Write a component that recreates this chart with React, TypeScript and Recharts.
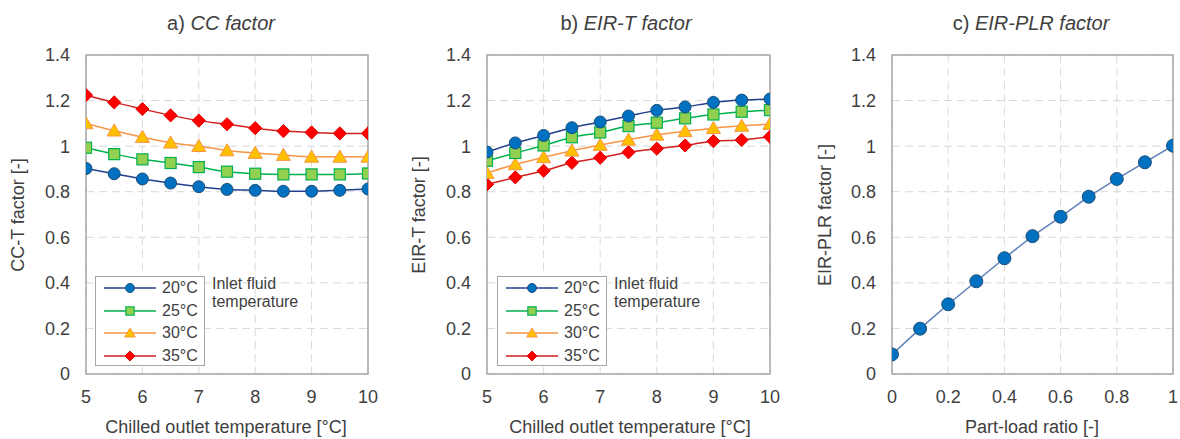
import React from 'react';
import {
  LineChart,
  Line,
  XAxis,
  YAxis,
  CartesianGrid,
  ReferenceArea,
  Legend,
} from 'recharts';

// ---------- data ----------
const chilledTemps = [5, 5.5, 6, 6.5, 7, 7.5, 8, 8.5, 9, 9.5, 10];
const cc20 = [0.902, 0.879, 0.856, 0.838, 0.822, 0.81, 0.806, 0.802, 0.802, 0.806, 0.812];
const cc25 = [0.993, 0.965, 0.942, 0.926, 0.908, 0.888, 0.879, 0.876, 0.876, 0.876, 0.88];
const cc30 = [1.1, 1.068, 1.04, 1.015, 1.0, 0.981, 0.97, 0.961, 0.953, 0.953, 0.953];
const cc35 = [1.224, 1.192, 1.163, 1.135, 1.112, 1.096, 1.079, 1.066, 1.06, 1.056, 1.056];

const eir20 = [0.974, 1.014, 1.047, 1.081, 1.106, 1.132, 1.157, 1.172, 1.192, 1.202, 1.207];
const eir25 = [0.936, 0.97, 1.003, 1.039, 1.06, 1.088, 1.103, 1.122, 1.139, 1.151, 1.158];
const eir30 = [0.882, 0.92, 0.951, 0.98, 1.005, 1.028, 1.05, 1.065, 1.079, 1.089, 1.097];
const eir35 = [0.832, 0.863, 0.892, 0.927, 0.949, 0.973, 0.989, 1.003, 1.022, 1.027, 1.041];

const partLoad = [0, 0.1, 0.2, 0.3, 0.4, 0.5, 0.6, 0.7, 0.8, 0.9, 1];
const eirPlr = [0.086, 0.199, 0.306, 0.407, 0.508, 0.605, 0.69, 0.778, 0.856, 0.929, 1.002];

const seriesNames = ['20°C', '25°C', '30°C', '35°C'];
const tempTicks = [5, 6, 7, 8, 9, 10];
const plrTicks = [0, 0.2, 0.4, 0.6, 0.8, 1];
const factorTicks = [0, 0.2, 0.4, 0.6, 0.8, 1, 1.2, 1.4];

// ---------- styles ----------
const FONT = 'Arial, "Liberation Sans", sans-serif';
const TEXT = '#404040';
const GRID = '#d9d9d9';
const BORDER = '#a6a6a6';

type Shape = 'circle' | 'square' | 'triangle' | 'diamond';
const seriesStyles: { line: string; fill: string; stroke: string; shape: Shape }[] = [
  { line: '#203f8c', fill: '#0070c0', stroke: '#1f4e79', shape: 'circle' },
  { line: '#00b050', fill: '#92d050', stroke: '#00b050', shape: 'square' },
  { line: '#f79646', fill: '#ffc000', stroke: '#f79646', shape: 'triangle' },
  { line: '#d02020', fill: '#ff0000', stroke: '#e00000', shape: 'diamond' },
];

function drawMarker(shape: Shape, cx: number, cy: number, s: number, fill: string, stroke: string, key?: any) {
  if (shape === 'circle') {
    return <circle key={key} cx={cx} cy={cy} r={s * 0.5} fill={fill} stroke={stroke} strokeWidth={1} />;
  }
  if (shape === 'square') {
    const h = s * 0.46;
    return <rect key={key} x={cx - h} y={cy - h} width={2 * h} height={2 * h} fill={fill} stroke={stroke} strokeWidth={1.2} />;
  }
  if (shape === 'triangle') {
    const h = s * 0.56;
    return (
      <polygon
        key={key}
        points={`${cx},${cy - h} ${cx + h * 1.05},${cy + h * 0.8} ${cx - h * 1.05},${cy + h * 0.8}`}
        fill={fill}
        stroke={stroke}
        strokeWidth={1}
      />
    );
  }
  const h = s * 0.55;
  return (
    <polygon
      key={key}
      points={`${cx},${cy - h} ${cx + h},${cy} ${cx},${cy + h} ${cx - h},${cy}`}
      fill={fill}
      stroke={stroke}
      strokeWidth={1}
    />
  );
}

const makeDot = (idx: number, size: number) => (props: any) => {
  const st = seriesStyles[idx];
  if (props.cx == null || props.cy == null) return <g key={`e${props.index}`} />;
  return drawMarker(st.shape, props.cx, props.cy, size, st.fill, st.stroke, `d${idx}-${props.index}`);
};

const ccData = chilledTemps.map((t, i) => ({ t, s0: cc20[i], s1: cc25[i], s2: cc30[i], s3: cc35[i] }));
const eirData = chilledTemps.map((t, i) => ({ t, s0: eir20[i], s1: eir25[i], s2: eir30[i], s3: eir35[i] }));
const plrData = partLoad.map((p, i) => ({ p, v: eirPlr[i] }));

const LegendBox = () => (
  <div style={{ display: 'flex', alignItems: 'flex-start', fontFamily: FONT, color: TEXT }}>
    <div
      style={{
        border: `1.5px solid ${BORDER}`,
        background: '#fff',
        width: 108,
        height: 88,
        paddingTop: 0,
        boxSizing: 'content-box',
      }}
    >
      {seriesNames.map((n, i) => (
        <div key={n} style={{ height: 22.5, display: 'flex', alignItems: 'center', fontSize: 16 }}>
          <svg width={66} height={20} style={{ flex: 'none' }}>
            <line x1={8} x2={60} y1={10} y2={10} stroke={seriesStyles[i].line} strokeWidth={1.5} />
            {drawMarker(seriesStyles[i].shape, 34, 10, 9, seriesStyles[i].fill, seriesStyles[i].stroke)}
          </svg>
          <span>{n}</span>
        </div>
      ))}
    </div>
    <div style={{ marginLeft: 7, fontSize: 16, lineHeight: '17.7px', marginTop: -1 }}>
      Inlet fluid
      <br />
      temperature
    </div>
  </div>
);

const tickStyle = { fontSize: 18, fill: TEXT, fontFamily: FONT };

function Panel(props: {
  left: number;
  width: number;
  plotLeft: number;
  plotRight: number;
  data: any[];
  xKey: string;
  xDomain: [number, number];
  xTicks: number[];
  multi: boolean;
  legendLeft?: number;
}) {
  const { left, width, plotLeft, plotRight, data, xKey, xDomain, xTicks, multi } = props;
  const yW = 50;
  return (
    <div style={{ position: 'absolute', left, top: 0, width, height: 439 }}>
      <LineChart
        width={width}
        height={439}
        data={data}
        margin={{ top: 55, right: width - plotRight, bottom: 25, left: plotLeft - yW }}
      >
        <CartesianGrid stroke={GRID} strokeDasharray="8 5" strokeWidth={1} />
        <XAxis
          dataKey={xKey}
          type="number"
          domain={xDomain}
          ticks={xTicks}
          allowDataOverflow
          tickLine={false}
          axisLine={false}
          tickSize={0}
          tickMargin={16}
          height={40}
          tick={tickStyle}
          interval={0}
        />
        <YAxis
          type="number"
          domain={[0, 1.4]}
          ticks={factorTicks}
          tickLine={false}
          axisLine={false}
          tickSize={0}
          tickMargin={16}
          width={yW}
          tick={tickStyle}
          interval={0}
        />
        <ReferenceArea
          x1={xDomain[0]}
          x2={xDomain[1]}
          y1={0}
          y2={1.4}
          fill="none"
          fillOpacity={0}
          stroke={BORDER}
          strokeWidth={1.5}
        />
        {multi
          ? [3, 2, 1, 0].map((i) => (
              <Line
                key={i}
                type="monotone"
                dataKey={`s${i}`}
                name={seriesNames[i]}
                stroke={seriesStyles[i].line}
                strokeWidth={1.5}
                dot={makeDot(i, 12)}
                activeDot={false}
                isAnimationActive={false}
              />
            ))
          : (
            <Line
              type="linear"
              dataKey="v"
              stroke="#5b7fb8"
              strokeWidth={1.5}
              dot={(p: any) => (
                <circle
                  key={`c${p.index}`}
                  cx={p.cx}
                  cy={p.cy}
                  r={6.5}
                  fill="#0070c0"
                  stroke="#1f4e79"
                  strokeWidth={1}
                />
              )}
              activeDot={false}
              isAnimationActive={false}
            />
          )}
        {multi && (
          <Legend
            layout="horizontal"
            verticalAlign="middle"
            align="center"
            content={() => <LegendBox />}
            wrapperStyle={{ position: 'absolute', left: props.legendLeft, top: 276, width: 230 }}
          />
        )}
      </LineChart>
    </div>
  );
}

const labelBase: React.CSSProperties = {
  position: 'absolute',
  fontFamily: FONT,
  color: TEXT,
  whiteSpace: 'nowrap',
};

function Title({ cx, prefix, name }: { cx: number; prefix: string; name: string }) {
  return (
    <div style={{ ...labelBase, left: cx, top: 23, transform: 'translate(-50%, -50%)', fontSize: 20 }}>
      {prefix} <i>{name}</i>
    </div>
  );
}

function XLabel({ cx, text }: { cx: number; text: string }) {
  return (
    <div style={{ ...labelBase, left: cx, top: 427, transform: 'translate(-50%, -50%)', fontSize: 18 }}>{text}</div>
  );
}

function YLabel({ cx, text }: { cx: number; text: string }) {
  return (
    <div
      style={{
        ...labelBase,
        left: cx,
        top: 214.5,
        transform: 'translate(-50%, -50%) rotate(-90deg)',
        fontSize: 18,
      }}
    >
      {text}
    </div>
  );
}

export default function App() {
  return (
    <div
      style={{
        position: 'absolute',
        left: 0,
        top: 0,
        width: 1180,
        height: 439,
        background: '#fff',
        overflow: 'hidden',
      }}
    >
      <Panel
        left={0}
        width={400}
        plotLeft={86}
        plotRight={368}
        data={ccData}
        xKey="t"
        xDomain={[5, 10]}
        xTicks={tempTicks}
        multi
        legendLeft={95}
      />
      <Panel
        left={400}
        width={400}
        plotLeft={87}
        plotRight={370}
        data={eirData}
        xKey="t"
        xDomain={[5, 10]}
        xTicks={tempTicks}
        multi
        legendLeft={97}
      />
      <Panel
        left={800}
        width={380}
        plotLeft={92}
        plotRight={373}
        data={plrData}
        xKey="p"
        xDomain={[0, 1]}
        xTicks={plrTicks}
        multi={false}
      />
      <Title cx={221} prefix="a)" name="CC factor" />
      <Title cx={626} prefix="b)" name="EIR-T factor" />
      <Title cx={1031} prefix="c)" name="EIR-PLR factor" />
      <XLabel cx={226} text="Chilled outlet temperature [°C]" />
      <XLabel cx={630} text="Chilled outlet temperature [°C]" />
      <XLabel cx={1032} text="Part-load ratio [-]" />
      <YLabel cx={18} text="CC-T factor [-]" />
      <YLabel cx={419} text="EIR-T factor [-]" />
      <YLabel cx={825} text="EIR-PLR factor [-]" />
    </div>
  );
}
